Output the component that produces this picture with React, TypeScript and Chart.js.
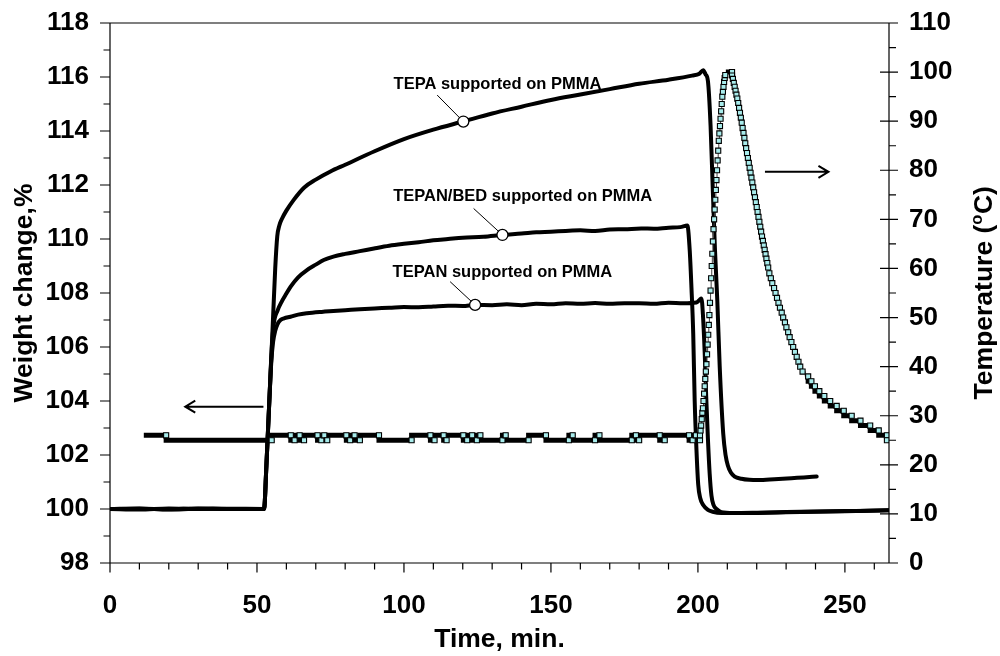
import React, { useEffect, useRef } from 'react';
import { Chart, registerables } from 'chart.js';

Chart.register(...registerables);

// ---------------- data ----------------
const X_MIN = 0;
const X_MAX = 265;
const W_MIN = 98;
const W_MAX = 118;
const T_MIN = 0;
const T_MAX = 110;

const xTicks = [0, 50, 100, 150, 200, 250];
const xMinorTicks = [10, 20, 30, 40, 60, 70, 80, 90, 110, 120, 130, 140, 160, 170, 180, 190, 210, 220, 230, 240, 260];
const weightTicks = [98, 100, 102, 104, 106, 108, 110, 112, 114, 116, 118];
const weightMinorTicks = [99, 101, 103, 105, 107, 109, 111, 113, 115, 117];
const tempTicks = [0, 10, 20, 30, 40, 50, 60, 70, 80, 90, 100, 110];
const tempMinorTicks = [5, 15, 25, 35, 45, 55, 65, 75, 85, 95, 105];

// TEPA supported on PMMA
const tepaTime = [0, 10, 20, 30, 40, 52.4, 53.2, 54.2, 55.2, 56.2, 56.9, 57.6, 58.5, 60, 62.5, 66, 70, 75, 80, 90, 100, 110, 120, 130, 140, 150, 160, 170, 180, 190, 198, 200.5, 201.8, 202.6, 203.4, 204.3, 205.1, 205.8, 206.6, 207.4, 208.6, 209.4, 210.2, 211.2, 212.5, 214.8, 217.5, 220.5, 226, 231.8, 236, 240.4];
const tepaWeight = [100, 100.02, 99.98, 100.01, 100, 100, 101.6, 104, 106.4, 108.9, 110.1, 110.5, 110.75, 111.05, 111.45, 111.9, 112.2, 112.5, 112.75, 113.25, 113.7, 114.05, 114.35, 114.65, 114.9, 115.15, 115.35, 115.55, 115.75, 115.9, 116.05, 116.12, 116.25, 116.1, 115.85, 114.2, 111.7, 109.6, 107.7, 105.3, 102.8, 102.0, 101.6, 101.35, 101.2, 101.12, 101.08, 101.07, 101.1, 101.14, 101.17, 101.2];

// TEPAN/BED supported on PMMA
const bedTime = [0, 10, 20, 30, 40, 52.4, 53.2, 54.2, 55.0, 55.7, 57, 58.5, 60, 61.4, 64, 67, 70, 72.7, 76, 80, 85, 89.8, 95, 100, 105, 110, 115, 120, 127, 133.5, 140, 145, 150, 155, 160, 165, 170, 175, 180.7, 185, 190, 194, 196.4, 197.2, 197.8, 198.4, 198.9, 199.5, 200.1, 200.8, 201.8, 203.4, 205, 208, 215, 225, 235, 245, 255, 265];
const bedWeight = [100, 99.98, 100.02, 100, 100.01, 100, 101.6, 104, 105.9, 106.85, 107.35, 107.7, 107.98, 108.23, 108.58, 108.85, 109.05, 109.22, 109.35, 109.45, 109.55, 109.65, 109.75, 109.82, 109.88, 109.95, 110.0, 110.05, 110.08, 110.15, 110.2, 110.25, 110.27, 110.3, 110.32, 110.3, 110.35, 110.36, 110.39, 110.38, 110.42, 110.44, 110.5, 109.6, 108.2, 106.5, 104.0, 102.2, 100.9, 100.4, 100.15, 99.97, 99.9, 99.85, 99.85, 99.87, 99.9, 99.92, 99.93, 99.95];

// TEPAN supported on PMMA
const tepanTime = [0, 10, 20, 30, 40, 52.4, 53.2, 54.2, 54.9, 55.5, 56.2, 57.0, 58, 59.2, 61.4, 64, 67, 72, 76, 80, 85, 90, 95, 100, 105, 110, 115, 120, 124.2, 130, 135, 140, 145, 150, 155, 160, 165, 170, 175, 180, 185, 190, 195, 199.5, 200.6, 201.2, 201.7, 202.3, 202.8, 203.4, 204.0, 204.6, 205.3, 206.3, 208, 212, 220, 230, 240, 250, 265];
const tepanWeight = [100, 100.01, 99.99, 100.02, 100, 100, 101.6, 104, 105.5, 106.2, 106.6, 106.85, 107.0, 107.06, 107.12, 107.2, 107.25, 107.3, 107.33, 107.36, 107.4, 107.43, 107.45, 107.48, 107.47, 107.5, 107.53, 107.52, 107.56, 107.55, 107.58, 107.55, 107.6, 107.58, 107.62, 107.6, 107.63, 107.6, 107.62, 107.62, 107.6, 107.64, 107.62, 107.65, 107.75, 107.8, 107.2, 105.8, 104.2, 102.6, 101.3, 100.5, 100.15, 100.0, 99.88, 99.85, 99.86, 99.88, 99.9, 99.92, 99.95];

// Temperature readings: time at which each reading / level starts, and its value
const tempTime = [
  11.5, 19.1, 55.0, 61.5, 62.8, 64.5, 66.0, 70.6, 71.9, 72.9, 73.9, 80.4, 81.7, 83.2, 85.0, 91.5, 102.6, 109.0, 110.4, 113.5, 114.5, 120.2, 121.5, 123.2, 124.8, 126.0, 133.5, 134.6, 142.4, 148.3, 156.1, 157.4, 165.0, 166.5, 177.5, 178.9, 180.0, 187.0, 188.7, 197.0, 198.2, 199.3,
  200.7, 200.9, 201.1, 201.3, 201.5, 201.7, 201.9, 202.1, 202.3, 202.5, 202.7, 202.9, 203.1, 203.3, 203.5, 203.7, 203.9, 204.1, 204.3, 204.5, 204.7, 204.9, 205.1, 205.3, 205.5, 205.7, 205.9, 206.1, 206.3, 206.5, 206.7, 206.9, 207.1, 207.3, 207.5, 207.7, 207.9, 208.1, 208.3, 208.5, 208.7, 208.9, 209.1, 209.3, 209.5,
  211.6, 211.9, 212.2, 212.5, 212.8, 213.1, 213.4, 213.7, 214.0, 214.3, 214.6, 214.9, 215.2, 215.5, 215.8, 216.1, 216.4, 216.7, 217.0, 217.3, 217.6, 217.9, 218.2, 218.5, 218.8, 219.1, 219.4, 219.7, 220.0, 220.3, 220.6, 220.9, 221.2, 221.5, 221.8, 222.1, 222.4, 222.7, 223.0, 223.3, 223.6, 223.9,
  224.3, 224.8, 225.3, 225.9, 226.4, 226.9, 227.4, 227.9, 228.5, 229.0, 229.6, 230.1, 230.7, 231.2, 231.8, 232.4, 233.0, 233.6, 234.2, 234.8, 235.6, 236.5, 237.5, 238.6, 239.8, 241.3, 243.0, 245.0, 247.2, 249.6, 252.3, 255.3, 258.6, 261.5, 264.3,
];
const tempValue = [
  26, 25, 26, 25, 26, 25, 26, 25, 26, 25, 26, 25, 26, 25, 26, 25, 26, 25, 26, 25, 26, 25, 26, 25, 26, 25, 26, 25, 26, 25, 26, 25, 26, 25, 26, 25, 26, 25, 26, 25, 26, 25,
  26, 27, 28, 29.3, 30.6, 31.5, 33, 34.5, 36, 37.5, 39, 40.5, 42.5, 44.5, 46.5, 48.5, 50.5, 53, 55.5, 58, 60.5, 63, 65.5, 68, 70, 72, 74, 76, 78, 80, 82, 84, 86, 87.5, 89, 90.5, 92, 93.5, 95, 96, 97, 98, 98.8, 99.4, 100,
  99.3, 98.6, 97.8, 97, 96.2, 95.4, 94.6, 93.7, 92.7, 91.7, 90.7, 89.7, 88.6, 87.6, 86.6, 85.5, 84.5, 83.5, 82.5, 81.5, 80.5, 79.5, 78.5, 77.5, 76.5, 75.5, 74.5, 73.5, 72.5, 71.5, 70.5, 69.5, 68.5, 67.5, 66.5, 65.6, 64.7, 63.8, 62.9, 62, 61.1, 60.2,
  59, 58, 57, 56, 55, 54, 53, 52, 51, 50, 49, 48, 47, 46, 45, 44, 43, 42, 41, 40, 39, 38, 37, 36, 35, 34, 33, 32, 31, 30, 29, 28, 27, 26, 25,
];

// ---------------- annotation layout (data coordinates) ----------------
const FONT = 'Liberation Sans, Arial, Helvetica, sans-serif';
const THICK_RUN = 0.95;

const curveLabels = [
  { text: 'TEPA supported on PMMA', textT: 131.8, textW: 115.73, leadT: 111.3, leadW: 115.33, pointT: 120.2, pointW: 114.35 },
  { text: 'TEPAN/BED supported on PMMA', textT: 140.4, textW: 111.56, leadT: 123.7, leadW: 111.13, pointT: 133.5, pointW: 110.15 },
  { text: 'TEPAN supported on PMMA', textT: 133.5, textW: 108.77, leadT: 115.7, leadW: 108.42, pointT: 124.2, pointW: 107.56 },
];
const arrows = [
  { fromT: 52.2, toT: 25.6, w: 103.79 },
  { fromT: 222.8, toT: 244.4, w: 112.49 },
];

const toPoints = (xs: number[], ys: number[]) => xs.map((x, i) => ({ x, y: ys[i] }));

const tempLinePoints = toPoints(tempTime, tempValue).concat([{ x: X_MAX, y: tempValue[tempValue.length - 1] }]);
const tempMarkerPoints = tempTime.map((t, i) => {
  const end = i + 1 < tempTime.length ? tempTime[i + 1] : X_MAX;
  return { x: end - t > THICK_RUN ? end : t, y: tempValue[i] };
});

const TICK_SIZE = 26;
const TITLE_SIZE = 26.5;

const overlayPlugin = {
  id: 'overlay',
  afterDatasetsDraw(chart: any) {
    const { ctx, scales } = chart;
    const sx = scales.x;
    const sy = scales.y;
    ctx.save();
    // arrows
    ctx.strokeStyle = '#000';
    ctx.lineWidth = 2;
    ctx.lineCap = 'butt';
    for (const a of arrows) {
      const x0 = sx.getPixelForValue(a.fromT);
      const x1 = sx.getPixelForValue(a.toT);
      const y = sy.getPixelForValue(a.w);
      const dir = x1 > x0 ? 1 : -1;
      ctx.beginPath();
      ctx.moveTo(x0, y);
      ctx.lineTo(x1, y);
      ctx.moveTo(x1 - dir * 10, y - 6);
      ctx.lineTo(x1, y);
      ctx.lineTo(x1 - dir * 10, y + 6);
      ctx.stroke();
    }
    // curve labels
    for (const l of curveLabels) {
      const cx = sx.getPixelForValue(l.pointT);
      const cy = sy.getPixelForValue(l.pointW);
      ctx.lineWidth = 1;
      ctx.beginPath();
      ctx.moveTo(sx.getPixelForValue(l.leadT), sy.getPixelForValue(l.leadW));
      ctx.lineTo(cx, cy);
      ctx.stroke();
      ctx.beginPath();
      ctx.arc(cx, cy, 5.5, 0, Math.PI * 2);
      ctx.fillStyle = '#fff';
      ctx.fill();
      ctx.lineWidth = 1.3;
      ctx.stroke();
      ctx.fillStyle = '#000';
      ctx.font = `bold 16.5px ${FONT}`;
      ctx.textAlign = 'center';
      ctx.textBaseline = 'middle';
      ctx.fillText(l.text, sx.getPixelForValue(l.textT), sy.getPixelForValue(l.textW));
    }
    ctx.restore();
  },
  afterDraw(chart: any) {
    const { ctx, chartArea: a, scales } = chart;
    const sx = scales.x;
    const sy = scales.y;
    const sr = scales.y2;
    ctx.save();
    ctx.strokeStyle = '#000';
    ctx.lineWidth = 1.2;
    ctx.beginPath();
    ctx.rect(a.left, a.top, a.right - a.left, a.bottom - a.top);
    // x ticks
    for (const v of xTicks) { const p = sx.getPixelForValue(v); ctx.moveTo(p, a.bottom); ctx.lineTo(p, a.bottom + 9.5); }
    for (const v of xMinorTicks) { const p = sx.getPixelForValue(v); ctx.moveTo(p, a.bottom); ctx.lineTo(p, a.bottom + 6.5); }
    // left ticks
    for (const v of weightTicks) { const p = sy.getPixelForValue(v); ctx.moveTo(a.left - 10, p); ctx.lineTo(a.left, p); }
    for (const v of weightMinorTicks) { const p = sy.getPixelForValue(v); ctx.moveTo(a.left - 6.5, p); ctx.lineTo(a.left, p); }
    // right ticks
    for (const v of tempTicks) { const p = sr.getPixelForValue(v); ctx.moveTo(a.right - 9, p); ctx.lineTo(a.right + 9, p); }
    for (const v of tempMinorTicks) { const p = sr.getPixelForValue(v); ctx.moveTo(a.right, p); ctx.lineTo(a.right + 7, p); }
    ctx.stroke();

    // right axis title (reads bottom to top, superscript o)
    ctx.translate(985, (a.top + a.bottom) / 2);
    ctx.rotate(-Math.PI / 2);
    ctx.fillStyle = '#000';
    ctx.textBaseline = 'middle';
    ctx.textAlign = 'left';
    const big = `bold ${TITLE_SIZE}px ${FONT}`;
    const small = `bold 16.5px ${FONT}`;
    ctx.font = big;
    const w1 = ctx.measureText('Temperature (').width;
    const w3 = ctx.measureText('C)').width;
    ctx.font = small;
    const w2 = ctx.measureText('o').width;
    const x0 = -(w1 + w2 + w3) / 2;
    ctx.font = big;
    ctx.fillText('Temperature (', x0, 0);
    ctx.font = small;
    ctx.fillText('o', x0 + w1, -8);
    ctx.font = big;
    ctx.fillText('C)', x0 + w1 + w2 + 0.5, 0);
    ctx.restore();
  },
};

const tickFont = { family: FONT, size: TICK_SIZE, weight: 'bold' as const };
const titleFont = { family: FONT, size: TITLE_SIZE, weight: 'bold' as const };

const fitVertical = (width: number) => (s: any) => {
  s.width = width;
  s.paddingTop = 0;
  s.paddingBottom = 0;
};

export default function App() {
  const canvasRef = useRef<HTMLCanvasElement | null>(null);

  useEffect(() => {
    document.body.style.margin = '0';
    const canvas = canvasRef.current;
    if (!canvas) return;
    const weightLine = (label: string, xs: number[], ys: number[]) => ({
      label,
      data: toPoints(xs, ys),
      yAxisID: 'y',
      borderColor: '#000',
      borderWidth: 4,
      pointRadius: 0,
      cubicInterpolationMode: 'monotone' as const,
      borderJoinStyle: 'round' as const,
      borderCapStyle: 'round' as const,
      fill: false,
    });
    const chart = new Chart(canvas, {
      type: 'line',
      data: {
        datasets: [
          {
            label: 'Temperature markers',
            data: tempMarkerPoints,
            yAxisID: 'y2',
            showLine: false,
            pointStyle: 'rect',
            pointRadius: 3.6,
            pointBackgroundColor: '#a8ecec',
            pointBorderColor: '#000',
            pointBorderWidth: 1.1,
          } as any,
          {
            label: 'Temperature',
            data: tempLinePoints,
            yAxisID: 'y2',
            stepped: true,
            pointRadius: 0,
            borderColor: '#000',
            borderWidth: 1,
            borderJoinStyle: 'miter',
            segment: {
              borderWidth: (c: any) => (tempLinePoints[c.p1DataIndex].x - tempLinePoints[c.p0DataIndex].x > THICK_RUN ? 5 : 1),
              borderColor: (c: any) => (tempLinePoints[c.p1DataIndex].x - tempLinePoints[c.p0DataIndex].x > THICK_RUN ? '#000' : '#444'),
            },
          } as any,
          weightLine('TEPA supported on PMMA', tepaTime, tepaWeight),
          weightLine('TEPAN/BED supported on PMMA', bedTime, bedWeight),
          weightLine('TEPAN supported on PMMA', tepanTime, tepanWeight),
        ],
      },
      options: {
        responsive: false,
        animation: false,
        devicePixelRatio: 1,
        parsing: false as any,
        normalized: true,
        layout: { padding: { top: 23, left: 0, right: 0, bottom: 0 } },
        plugins: { legend: { display: false }, tooltip: { enabled: false } },
        scales: {
          x: {
            type: 'linear',
            position: 'bottom',
            min: X_MIN,
            max: X_MAX,
            afterBuildTicks: (s: any) => { s.ticks = xTicks.map((value) => ({ value })); },
            afterFit: (s: any) => { s.height = 93; s.paddingLeft = 0; s.paddingRight = 0; },
            grid: { display: false, drawTicks: false, tickLength: 0 },
            border: { display: false },
            ticks: { font: tickFont, color: '#000', padding: 27, maxRotation: 0, autoSkip: false },
            title: { display: true, text: 'Time, min.', color: '#000', font: titleFont, padding: { top: 0, bottom: 0 } },
          },
          y: {
            type: 'linear',
            position: 'left',
            min: W_MIN,
            max: W_MAX,
            afterBuildTicks: (s: any) => { s.ticks = weightTicks.map((value) => ({ value })); },
            afterFit: fitVertical(110),
            grid: { display: false, drawTicks: false, tickLength: 0 },
            border: { display: false },
            ticks: { font: tickFont, color: '#000', padding: 21, autoSkip: false },
            title: { display: true, text: 'Weight change,%', color: '#000', font: titleFont, padding: { top: 9.1, bottom: 0 } },
          },
          y2: {
            type: 'linear',
            position: 'right',
            min: T_MIN,
            max: T_MAX,
            afterBuildTicks: (s: any) => { s.ticks = tempTicks.map((value) => ({ value })); },
            afterFit: fitVertical(111),
            grid: { display: false, drawTicks: false, tickLength: 0 },
            border: { display: false },
            ticks: { font: tickFont, color: '#000', padding: 20, autoSkip: false },
            title: { display: false },
          },
        },
      },
      plugins: [overlayPlugin],
    });
    return () => chart.destroy();
  }, []);

  return (
    <div style={{ width: 1000, height: 656, background: '#fff' }}>
      <canvas ref={canvasRef} width={1000} height={656} style={{ display: 'block', width: 1000, height: 656 }} />
    </div>
  );
}
